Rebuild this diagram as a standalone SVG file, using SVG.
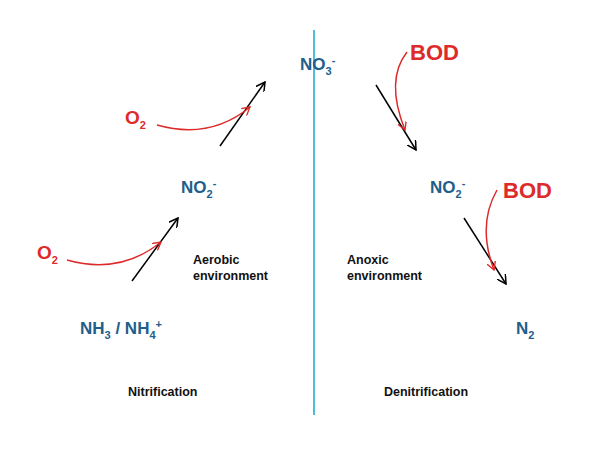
<svg xmlns="http://www.w3.org/2000/svg" width="600" height="450" viewBox="0 0 600 450">
<style>
.sp{font-family:"Liberation Sans",Arial,sans-serif;font-weight:bold;fill:#215e8c;font-size:17px}
.rd{font-family:"Liberation Sans",Arial,sans-serif;font-weight:bold;fill:#dd2a2a;font-size:19px}
.bod{font-size:22px}
.lb{font-family:"Liberation Sans",Arial,sans-serif;font-weight:bold;fill:#111;font-size:12.5px}
.sub{font-size:11px}
.bk{stroke:#000;stroke-width:1.5;fill:none;marker-end:url(#ab)}
.rc{stroke:#dd2a2a;stroke-width:1.5;fill:none;marker-end:url(#ar)}
</style>
<defs>
<marker id="ab" viewBox="0 0 10 10" refX="9" refY="5" markerWidth="10" markerHeight="10" markerUnits="userSpaceOnUse" orient="auto"><path d="M0,0 L9,5 L0,10" fill="none" stroke="#000" stroke-width="1.5"/></marker>
<marker id="ar" viewBox="0 0 10 10" refX="9" refY="5" markerWidth="9" markerHeight="9" markerUnits="userSpaceOnUse" orient="auto"><path d="M0,0 L9,5 L0,10" fill="none" stroke="#dd2a2a" stroke-width="1.5"/></marker>
</defs>
<line x1="314" y1="30" x2="314" y2="415" stroke="#3bb6d8" stroke-width="1.8"/>
<g id="connectors">
<line class="bk" x1="220" y1="146" x2="265" y2="82"/>
<path class="rc" d="M157,125 Q210,140 250,107"/>
<line class="bk" x1="132" y1="281" x2="178" y2="218"/>
<path class="rc" d="M67,260 Q120,275 161,242"/>
<line class="bk" x1="376" y1="85" x2="416" y2="150"/>
<path class="rc" d="M407,52 Q385,80 405,130"/>
<line class="bk" x1="464" y1="218" x2="506" y2="284"/>
<path class="rc" d="M497,190 Q477,225 494,270"/>
</g>
<g id="no3"><text class="sp" x="300" y="70">NO<tspan class="sub" dy="5">3</tspan><tspan class="sub" dy="-11">-</tspan></text></g>
<g id="no2a"><text class="sp" x="181" y="193">NO<tspan class="sub" dy="5">2</tspan><tspan class="sub" dy="-11">-</tspan></text></g>
<g id="nh3"><text class="sp" x="80" y="334">NH<tspan class="sub" dy="5">3</tspan><tspan dy="-5"> / NH</tspan><tspan class="sub" dy="5">4</tspan><tspan class="sub" dy="-11">+</tspan></text></g>
<g id="o2a"><text class="rd" x="125" y="124">O<tspan class="sub" dy="5">2</tspan></text></g>
<g id="o2b"><text class="rd" x="37" y="259">O<tspan class="sub" dy="5">2</tspan></text></g>
<g id="bod1"><text class="rd bod" x="410" y="60">BOD</text></g>
<g id="no2b"><text class="sp" x="430" y="193">NO<tspan class="sub" dy="5">2</tspan><tspan class="sub" dy="-11">-</tspan></text></g>
<g id="bod2"><text class="rd bod" x="503" y="198">BOD</text></g>
<g id="n2"><text class="sp" x="516" y="334">N<tspan class="sub" dy="5">2</tspan></text></g>
<g id="aer"><text class="lb" x="193" y="264">Aerobic</text><text class="lb" x="193" y="280">environment</text></g>
<g id="anox"><text class="lb" x="347" y="264">Anoxic</text><text class="lb" x="347" y="280">environment</text></g>
<g id="nit"><text class="lb" x="128" y="396">Nitrification</text></g>
<g id="den"><text class="lb" x="384" y="396">Denitrification</text></g>
</svg>
